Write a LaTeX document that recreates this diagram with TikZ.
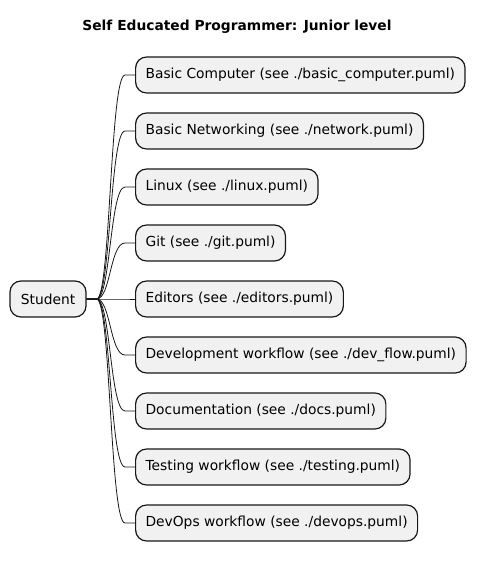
\documentclass[tikz,border=0pt]{standalone}
\usepackage{fontspec}
\setmainfont{DejaVu Sans}
\usetikzlibrary{calc}
\definecolor{boxfill}{HTML}{F1F1F1}
\definecolor{boxline}{HTML}{181818}
\begin{document}
\begin{tikzpicture}[x=1pt, y=-1pt,
  font=\fontsize{13.8}{16}\selectfont,
  topic/.style = {shape=rectangle, rounded corners=11pt,
    draw=boxline, line width=1.2pt, fill=boxfill,
    minimum height=36pt, inner xsep=10pt, inner ysep=0pt},
  grow'=right, level distance=87pt, sibling distance=56pt,
  every child node/.style = {anchor=west},
  edge from parent/.style = {draw=boxline, line width=0.8pt},
  edge from parent path = {(\tikzparentnode.east) -- ++(10,0)
    .. controls ++(14,0) and ($(\tikzchildnode.west)+(-25,0)$) ..
    ($(\tikzchildnode.west)+(-10,0)$) -- (\tikzchildnode.west)}]
  \useasboundingbox (0,0) rectangle (477,564);
  \node (title) at (237,27) {\bfseries Self Educated Programmer: Junior level};
  \node[topic, minimum width=76pt, inner xsep=0pt] (student) at (48,299) {Student}
    child { node[topic] (computer) {Basic Computer (see ./basic\_computer.puml)}}
    child { node[topic] (network) {Basic Networking (see ./network.puml)}}
    child { node[topic] (linux) {Linux (see ./linux.puml)}}
    child { node[topic] (git) {Git (see ./git.puml)}}
    child { node[topic] (editors) {Editors (see ./editors.puml)}}
    child { node[topic] (devflow) {Development workflow (see ./dev\_flow.puml)}}
    child { node[topic] (docs) {Documentation (see ./docs.puml)}}
    child { node[topic] (testing) {Testing workflow (see ./testing.puml)}}
    child { node[topic] (devops) {DevOps workflow (see ./devops.puml)}};
\end{tikzpicture}
\end{document}
